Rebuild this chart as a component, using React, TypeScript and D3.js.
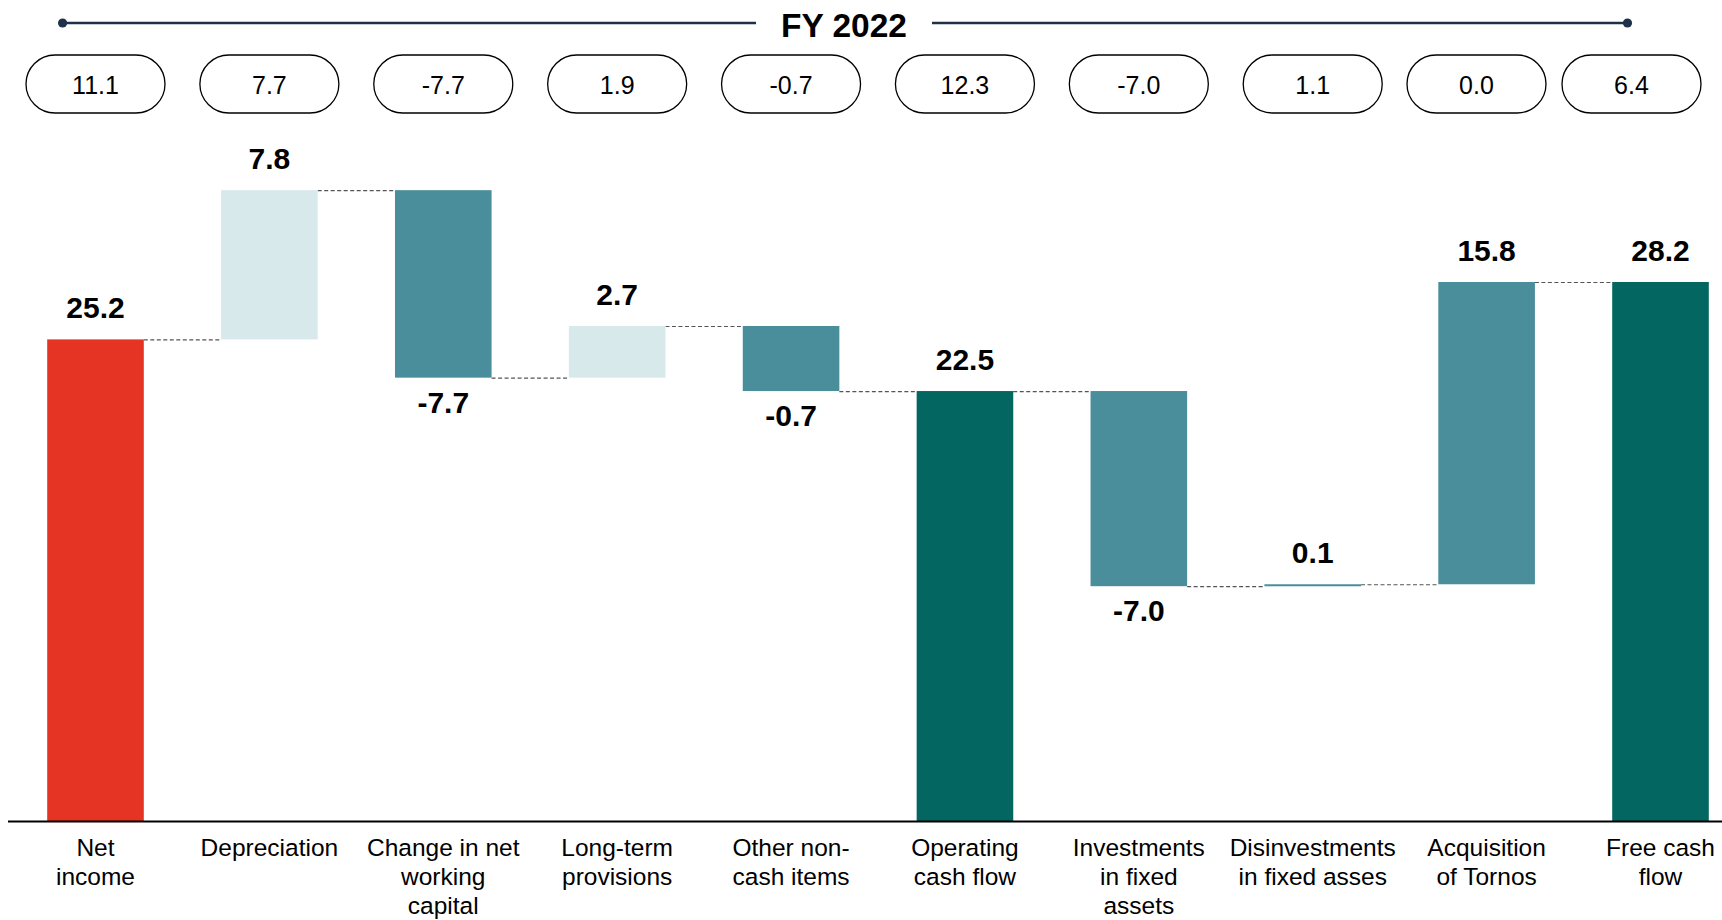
import React from "react";
import * as d3 from "d3";

const W = 1722;
const H = 920;

const categories = [
  ["Net", "income"],
  ["Depreciation"],
  ["Change in net", "working", "capital"],
  ["Long-term", "provisions"],
  ["Other non-", "cash items"],
  ["Operating", "cash flow"],
  ["Investments", "in fixed", "assets"],
  ["Disinvestments", "in fixed asses"],
  ["Acquisition", "of Tornos"],
  ["Free cash", "flow"],
];
// drawn step of each bar (totals flagged separately)
const barValues = [25.2, 7.8, -9.8, 2.7, -3.4, 22.5, -10.2, 0.1, 15.8, 28.2];
const isTotal = [true, false, false, false, false, true, false, false, false, true];
const barLabels = ["25.2", "7.8", "-7.7", "2.7", "-0.7", "22.5", "-7.0", "0.1", "15.8", "28.2"];
const kinds = ["red", "light", "mid", "light", "mid", "dark", "mid", "mid", "mid", "dark"];
const pillValues = ["11.1", "7.7", "-7.7", "1.9", "-0.7", "12.3", "-7.0", "1.1", "0.0", "6.4"];
const title = "FY 2022";

const colors: Record<string, string> = {
  red: "#e53424",
  light: "#d8e9ec",
  mid: "#4a8d9b",
  dark: "#036660",
};

export default function App() {
  const n = categories.length;
  const ids = categories.map((_, i) => String(i));
  const x = d3
    .scaleBand<string>()
    .domain(ids)
    .range([47.2, 1708.8])
    .paddingInner(0.4445)
    .paddingOuter(0);
  const y = d3.scaleLinear().domain([0, 28.2]).range([821.5, 282]);

  // compute waterfall segments
  let run = 0;
  const segs = barValues.map((v, i) => {
    let y0: number, y1: number;
    if (isTotal[i]) {
      y0 = 0;
      y1 = v;
      run = v;
    } else {
      y0 = run;
      y1 = run + v;
      run = y1;
    }
    return { lo: Math.min(y0, y1), hi: Math.max(y0, y1), end: run, v, i };
  });

  const bw = x.bandwidth();
  const font = "Arial, 'Liberation Sans', Helvetica, sans-serif";

  // pills
  const pillW = 139;
  const pillH = 58;
  const pillY = 55;
  const pillCenters: number[] = new Array(n);
  let maxRight = W - 21;
  for (let i = n - 1; i >= 0; i--) {
    const bc = (x(String(i)) as number) + bw / 2;
    const c = Math.min(bc, maxRight - pillW / 2);
    pillCenters[i] = c;
    maxRight = c - pillW / 2 - 16;
  }

  return (
    <svg
      width={W}
      height={H}
      style={{ position: "fixed", left: 0, top: 0, background: "#fff" }}
      fontFamily={font}
    >
      {/* title line */}
      <line x1={62.6} x2={756} y1={23} y2={23} stroke="#1d3148" strokeWidth={2.6} />
      <line x1={932} x2={1627.5} y1={23} y2={23} stroke="#1d3148" strokeWidth={2.6} />
      <circle cx={62.6} cy={23} r={4.6} fill="#1d3148" />
      <circle cx={1627.5} cy={23} r={4.6} fill="#1d3148" />
      <text x={844} y={37} textAnchor="middle" fontSize={33.5} fontWeight="bold" fill="#000">
        {title}
      </text>

      {/* pills */}
      {pillValues.map((p, i) => (
        <g key={"p" + i}>
          <rect
            x={pillCenters[i] - pillW / 2}
            y={pillY}
            width={pillW}
            height={pillH}
            rx={pillH / 2}
            ry={pillH / 2}
            fill="#fff"
            stroke="#000"
            strokeWidth={1.3}
          />
          <text x={pillCenters[i]} y={pillY + pillH / 2 + 9.5} textAnchor="middle" fontSize={25} fill="#000">
            {p}
          </text>
        </g>
      ))}

      {/* connectors */}
      {segs.slice(0, n - 1).map((s, i) => {
        const x1 = (x(String(i)) as number) + bw;
        const x2 = x(String(i + 1)) as number;
        return (
          <line
            key={"c" + i}
            x1={x1}
            x2={x2}
            y1={y(s.end) + 0.5}
            y2={y(s.end) + 0.5}
            stroke="#555"
            strokeWidth={1.2}
            strokeDasharray="4 2.5"
          />
        );
      })}

      {/* bars */}
      {segs.map((s) => (
        <rect
          key={"b" + s.i}
          x={x(String(s.i))}
          y={y(s.hi)}
          width={bw}
          height={Math.max(2, y(s.lo) - y(s.hi))}
          fill={colors[kinds[s.i]]}
        />
      ))}

      {/* value labels */}
      {segs.map((s) => {
        const cx = (x(String(s.i)) as number) + bw / 2;
        const neg = s.v < 0;
        const ty = neg ? y(s.lo) + 35 : y(s.hi) - 21;
        return (
          <text key={"l" + s.i} x={cx} y={ty} textAnchor="middle" fontSize={30} fontWeight="bold" fill="#000">
            {barLabels[s.i]}
          </text>
        );
      })}

      {/* axis */}
      <line x1={8} x2={W} y1={821.5} y2={821.5} stroke="#000" strokeWidth={2} />

      {/* category labels */}
      {categories.map((lines, i) => {
        const cx = (x(String(i)) as number) + bw / 2;
        return (
          <text key={"t" + i} x={cx} textAnchor="middle" fontSize={24.5} fill="#000">
            {lines.map((ln, j) => (
              <tspan key={j} x={cx} y={856 + j * 29.2}>
                {ln}
              </tspan>
            ))}
          </text>
        );
      })}
    </svg>
  );
}
